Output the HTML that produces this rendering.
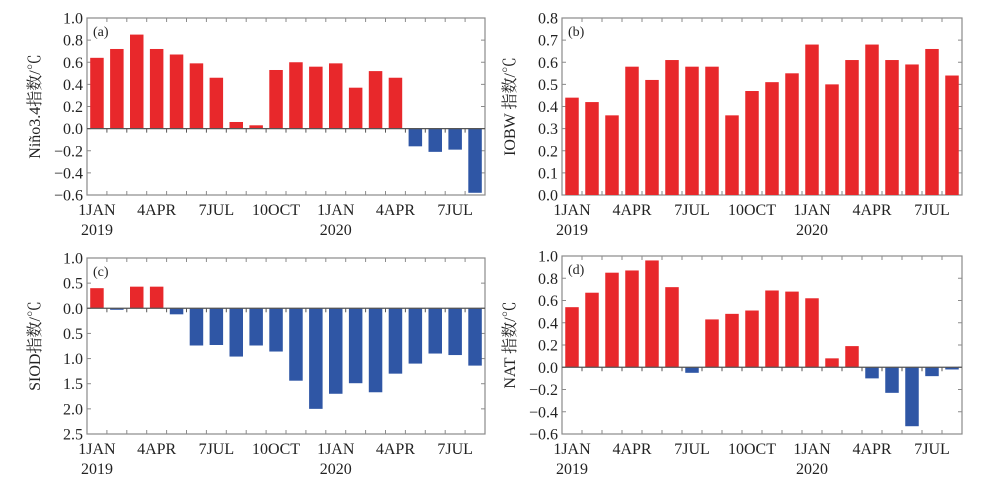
<!DOCTYPE html>
<html><head><meta charset="utf-8">
<style>
html,body{margin:0;padding:0;background:#fff;}
svg{display:block;font-family:"Liberation Serif","Noto Serif CJK SC","Noto Sans CJK SC",serif;}
</style></head>
<body>
<svg id="chart" width="1001" height="483" viewBox="0 0 1001 483" xmlns="http://www.w3.org/2000/svg"></svg>
<script>
const months = ["2019-01","2019-02","2019-03","2019-04","2019-05","2019-06","2019-07","2019-08","2019-09","2019-10","2019-11","2019-12","2020-01","2020-02","2020-03","2020-04","2020-05","2020-06","2020-07","2020-08"];
const xLabels = ["1JAN","","","4APR","","","7JUL","","","10OCT","","","1JAN","","","4APR","","","7JUL",""];
const yearLabels = ["2019","","","","","","","","","","","","2020","","","","","","",""];
const nino34 = [0.64,0.72,0.85,0.72,0.67,0.59,0.46,0.06,0.03,0.53,0.60,0.56,0.59,0.37,0.52,0.46,-0.16,-0.21,-0.19,-0.58];
const iobw = [0.44,0.42,0.36,0.58,0.52,0.61,0.58,0.58,0.36,0.47,0.51,0.55,0.68,0.50,0.61,0.68,0.61,0.59,0.66,0.54];
const siod = [0.40,-0.03,0.43,0.43,-0.12,-0.74,-0.73,-0.96,-0.74,-0.86,-1.44,-2.00,-1.70,-1.49,-1.67,-1.30,-1.10,-0.90,-0.93,-1.14];
const nat = [0.54,0.67,0.85,0.87,0.96,0.72,-0.05,0.43,0.48,0.51,0.69,0.68,0.62,0.08,0.19,-0.10,-0.23,-0.53,-0.08,-0.02];
const ticksA = [1.0,0.8,0.6,0.4,0.2,0.0,-0.2,-0.4,-0.6];
const ticksB = [0.8,0.7,0.6,0.5,0.4,0.3,0.2,0.1,0.0];
const ticksC = [1.0,0.5,0.0,-0.5,-1.0,-1.5,-2.0,-2.5];
const ticksD = [1.0,0.8,0.6,0.4,0.2,0.0,-0.2,-0.4,-0.6];

const NS="http://www.w3.org/2000/svg";
const svg=document.getElementById('chart');
function mk(tag,attrs,parent){const e=document.createElementNS(NS,tag);for(const k in attrs)e.setAttribute(k,attrs[k]);(parent||svg).appendChild(e);return e;}

function panel(id,tag,title,values,ticks,L,R,T,B,absLabels){
  const g=mk('g',{});
  
  
  const ymin=ticks[ticks.length-1], ymax=ticks[0];
  const y=v=>T+(ymax-v)/(ymax-ymin)*(B-T);
  const n=values.length, slot=(R-L)/n;
  const x=i=>L+i*slot;
  const frame=mk('rect',{x:L,y:T,width:R-L,height:B-T,fill:'none',stroke:'#8a8a8a','stroke-width':1.2},g);
  
  
  ticks.forEach(t=>{
    const yy=y(t);
    mk('line',{x1:L,x2:L+4,y1:yy,y2:yy,stroke:'#8a8a8a','stroke-width':1},g);
    mk('line',{x1:R,x2:R-4,y1:yy,y2:yy,stroke:'#8a8a8a','stroke-width':1},g);
    const lab=mk('text',{x:L-4,y:yy+5.5,'text-anchor':'end','font-size':16,fill:'#222'},g);
    
    
    let s=(absLabels?Math.abs(t):t).toFixed(1);
    if(!absLabels&&t<0)s='\u2212'+Math.abs(t).toFixed(1);
    lab.textContent=s;
  });
  values.forEach((v,i)=>{
    const cx=x(i)+slot/2, w=13.5;
    const y0=y(0), y1=y(v);
    const r=mk('rect',{x:cx-w/2,y:Math.min(y0,y1),width:w,height:Math.max(0.8,Math.abs(y1-y0)),fill:v>=0?'#e8282b':'#2f56a5'},g);
    
    
  });
  if(ymin<0){
    const z=mk('line',{x1:L,x2:R,y1:y(0),y2:y(0),stroke:'#555','stroke-width':1.3},g);
    
    
  }
  for(let i=1;i<n;i++){
    const xx=x(i);
    mk('line',{x1:xx,x2:xx,y1:T,y2:T+4,stroke:'#8a8a8a','stroke-width':1},g);
    mk('line',{x1:xx,x2:xx,y1:B,y2:B-4,stroke:'#8a8a8a','stroke-width':1},g);
    if(ymin<0) mk('line',{x1:xx,x2:xx,y1:y(0),y2:y(0)+4,stroke:'#555','stroke-width':1},g);
  }
  xLabels.forEach((s,i)=>{
    if(!s)return;
    const t=mk('text',{x:x(i)+slot/2,y:B+20,'text-anchor':'middle','font-size':16,fill:'#222'},g);
    
    
    t.textContent=s;
  });
  yearLabels.forEach((s,i)=>{
    if(!s)return;
    const t=mk('text',{x:x(i)+slot/2,y:B+40,'text-anchor':'middle','font-size':16,fill:'#222'},g);
    
    
    t.textContent=s;
  });
  const pl=mk('text',{x:L+6,y:T+18,'font-size':14,fill:'#222'},g);
  
  
  pl.textContent=tag;
  const cy=(T+B)/2, tx=L-47;
  const yt=mk('text',{x:tx,y:cy,'text-anchor':'middle','font-size':16,fill:'#222',transform:'rotate(-90 '+tx+' '+cy+')'},g);
  
  
  yt.textContent=title;
}
panel('a','(a)','Niño3.4指数/℃',nino34,ticksA,87,485,18,195,false);
panel('b','(b)','IOBW 指数/℃',iobw,ticksB,562,962,18,195,false);
panel('c','(c)','SIOD指数/℃',siod,ticksC,87,485,258,434,true);
panel('d','(d)','NAT 指数/℃',nat,ticksD,562,962,256,434,false);
</script>
</body></html>
